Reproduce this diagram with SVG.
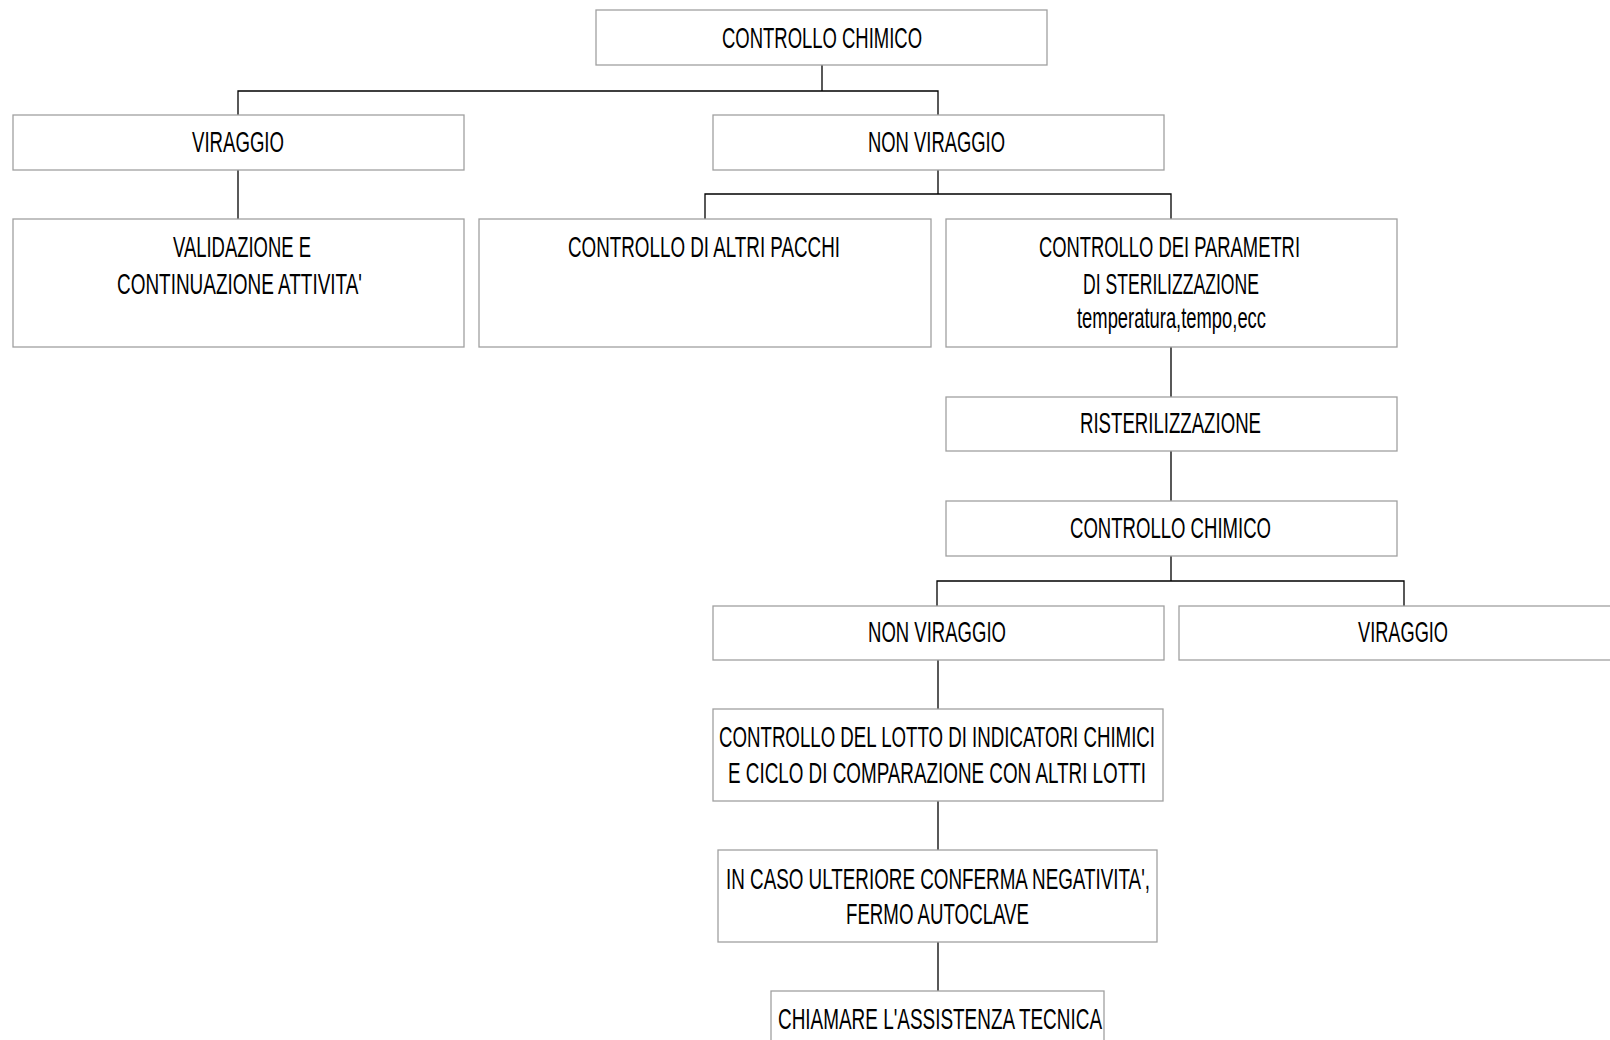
<svg xmlns="http://www.w3.org/2000/svg" width="1610" height="1040" viewBox="0 0 1610 1040">
<style>
.box{fill:#fff;stroke:#a0a0a0;stroke-width:1.3}
.t{font-family:"Liberation Sans",Arial,sans-serif;font-size:29px;fill:#000}
.c{fill:none;stroke:#000;stroke-width:1.3}
</style>
<rect width="1610" height="1040" fill="#fff"/>
<g id="connectors">
<path class="c" d="M822 65V91M238 115V91H938V115"/>
<path class="c" d="M238 170V219"/>
<path class="c" d="M938 170V194M705 219V194H1171V219"/>
<path class="c" d="M1171 347V397M1171 451V501"/>
<path class="c" d="M1171 556V581M937 606V581H1404V606"/>
<path class="c" d="M938 660V709M938 801V850M938 942V991"/>
</g>
<g id="n1"><rect class="box" x="596" y="10" width="451" height="55"/><text class="t" x="722" y="48" textLength="200" lengthAdjust="spacingAndGlyphs">CONTROLLO CHIMICO</text></g>
<g id="n2"><rect class="box" x="13" y="115" width="451" height="55"/><text class="t" x="192" y="152" textLength="92" lengthAdjust="spacingAndGlyphs">VIRAGGIO</text></g>
<g id="n3"><rect class="box" x="713" y="115" width="451" height="55"/><text class="t" x="868" y="152" textLength="137" lengthAdjust="spacingAndGlyphs">NON VIRAGGIO</text></g>
<g id="n4"><rect class="box" x="13" y="219" width="451" height="128"/><text class="t" x="173" y="257" textLength="138" lengthAdjust="spacingAndGlyphs">VALIDAZIONE E</text><text class="t" x="117" y="294" textLength="245" lengthAdjust="spacingAndGlyphs">CONTINUAZIONE ATTIVITA'</text></g>
<g id="n5"><rect class="box" x="479" y="219" width="452" height="128"/><text class="t" x="568" y="257" textLength="272" lengthAdjust="spacingAndGlyphs">CONTROLLO DI ALTRI PACCHI</text></g>
<g id="n6"><rect class="box" x="946" y="219" width="451" height="128"/><text class="t" x="1039" y="257" textLength="261" lengthAdjust="spacingAndGlyphs">CONTROLLO DEI PARAMETRI</text><text class="t" x="1083" y="294" textLength="176" lengthAdjust="spacingAndGlyphs">DI STERILIZZAZIONE</text><text class="t" x="1077" y="328" textLength="189" lengthAdjust="spacingAndGlyphs">temperatura,tempo,ecc</text></g>
<g id="n7"><rect class="box" x="946" y="397" width="451" height="54"/><text class="t" x="1080" y="433" textLength="181" lengthAdjust="spacingAndGlyphs">RISTERILIZZAZIONE</text></g>
<g id="n8"><rect class="box" x="946" y="501" width="451" height="55"/><text class="t" x="1070" y="538" textLength="201" lengthAdjust="spacingAndGlyphs">CONTROLLO CHIMICO</text></g>
<g id="n9"><rect class="box" x="713" y="606" width="451" height="54"/><text class="t" x="868" y="642" textLength="138" lengthAdjust="spacingAndGlyphs">NON VIRAGGIO</text></g>
<g id="n10"><rect class="box" x="1179" y="606" width="451" height="54"/><text class="t" x="1358" y="642" textLength="90" lengthAdjust="spacingAndGlyphs">VIRAGGIO</text></g>
<g id="n11"><rect class="box" x="713" y="709" width="450" height="92"/><text class="t" x="719" y="747" textLength="436" lengthAdjust="spacingAndGlyphs">CONTROLLO DEL LOTTO DI INDICATORI CHIMICI</text><text class="t" x="728" y="783" textLength="418" lengthAdjust="spacingAndGlyphs">E CICLO DI COMPARAZIONE CON ALTRI LOTTI</text></g>
<g id="n12"><rect class="box" x="718" y="850" width="439" height="92"/><text class="t" x="726" y="889" textLength="424" lengthAdjust="spacingAndGlyphs">IN CASO ULTERIORE CONFERMA NEGATIVITA',</text><text class="t" x="846" y="924" textLength="183" lengthAdjust="spacingAndGlyphs">FERMO AUTOCLAVE</text></g>
<g id="n13"><rect class="box" x="771" y="991" width="333" height="80"/><text class="t" x="778" y="1029" textLength="324" lengthAdjust="spacingAndGlyphs">CHIAMARE L'ASSISTENZA TECNICA</text></g>
</svg>
